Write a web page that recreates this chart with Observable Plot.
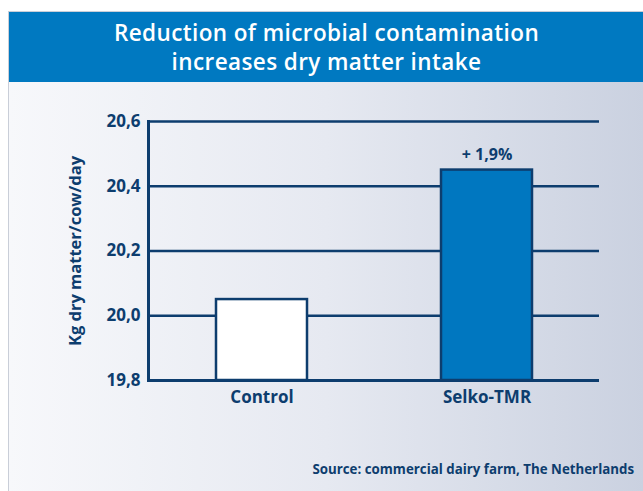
<!DOCTYPE html>
<html><head><meta charset="utf-8">
<script src="https://cdn.jsdelivr.net/npm/d3@7"></script>
<script src="https://cdn.jsdelivr.net/npm/@observablehq/plot@0.6"></script>
<style>
html,body{margin:0;padding:0;background:#fff;}
#wrap{position:absolute;left:8px;top:11px;width:635px;height:480px;border-left:1px solid #c9ced8;border-top:1px solid #c9ced8;
 background:linear-gradient(to right,#f7f8fb 0%,#e6e9f1 50%,#cad1e0 100%);overflow:hidden;font-family:"Open Sans","DejaVu Sans",sans-serif;}
#banner{height:70px;background:#0079c1;color:#fff;text-align:center;font-size:22.5px;font-weight:600;line-height:29px;letter-spacing:0.4px;padding-top:6px;box-sizing:border-box;}
#chart{position:absolute;left:0;top:70px;}
#src{position:absolute;right:10px;top:448px;font-size:13.3px;font-weight:700;color:#0d3d6e;}
</style></head>
<body>
<div id="wrap">
 <div id="banner">Reduction of microbial contamination<br>increases dry matter intake</div>
 <div id="chart"></div>
 <div id="src">Source: commercial dairy farm, The Netherlands</div>
</div>
<script>
const categories = ["Control", "Selko-TMR"];
const values = [20.05, 20.45];
const annotations = ["", "+ 1,9%"];
const yTicks = [19.8, 20.0, 20.2, 20.4, 20.6];
const gridTicks = [20.0, 20.2, 20.4, 20.6];
const yLabel = "Kg dry matter/cow/day";

const data = categories.map((c, i) => ({cat: c, v: values[i], note: annotations[i]}));
const navy = "#0d3d6e";
const fmt = d => d3.format(".1f")(d).replace(".", ",");

const plot = Plot.plot({
  width: 635, height: 410,
  marginLeft: 139, marginRight: 45, marginTop: 39, marginBottom: 112,
  style: {background: "transparent", fontFamily: "'Open Sans', 'DejaVu Sans', sans-serif", color: navy},
  x: {domain: categories, paddingInner: 0.596, paddingOuter: 0.296, label: null},
  y: {domain: [19.8, 20.6], label: null},
  marks: [
    Plot.ruleY(gridTicks, {stroke: navy, strokeWidth: 2.5}),
    Plot.ruleY([19.8], {stroke: navy, strokeWidth: 3}),
    Plot.frame({anchor: "left", stroke: navy, strokeWidth: 3}),
    Plot.barY(data, {x: "cat", y1: 19.8, y2: "v", fill: (d, i) => i === 0 ? "#ffffff" : "#0077c0", stroke: navy, strokeWidth: 2.5}),
    Plot.text(data, {x: "cat", y: "v", text: "note", dy: -15, fill: navy, fontSize: 16, fontWeight: 700}),
    Plot.axisY({ticks: yTicks, tickFormat: fmt, tickSize: 0, tickPadding: 8, fontSize: 17, fontWeight: 700, label: null, fill: navy}),
    Plot.axisX({tickSize: 0, tickPadding: 10, fontSize: 17, fontWeight: 700, label: null, fill: navy}),
    Plot.text([yLabel], {frameAnchor: "left", textAnchor: "middle", rotate: -90, dx: -73, fontSize: 16.5, fontWeight: 700, fill: navy})
  ]
});
document.getElementById("chart").appendChild(plot);
</script>
</body></html>
